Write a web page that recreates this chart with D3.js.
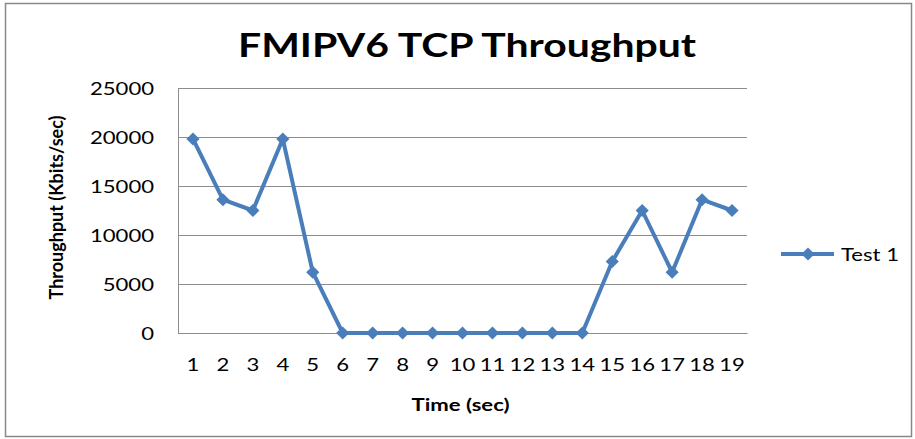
<!DOCTYPE html>
<html>
<head>
<meta charset="utf-8">
<script src="https://cdn.jsdelivr.net/npm/d3@7"></script>
<style>
  body { margin: 0; background: #fff; }
  text { font-family: Lato, "Open Sans", sans-serif; fill: #000; }
</style>
</head>
<body>
<div id="chart"></div>
<script>
// datos
const timeSec = [1, 2, 3, 4, 5, 6, 7, 8, 9, 10, 11, 12, 13, 14, 15, 16, 17, 18, 19];
const test1 = [19800, 13600, 12500, 19800, 6200, 0, 0, 0, 0, 0, 0, 0, 0, 0, 7300, 12500, 6200, 13600, 12500];
const yTicks = [0, 5000, 10000, 15000, 20000, 25000];
const seriesName = "Test 1";

const W = 915, H = 439;
const sx = 1.3; // el texto original esta estirado en horizontal
const margin = { top: 88, right: 168, bottom: 106, left: 178 };
const width = W - margin.left - margin.right;
const height = H - margin.top - margin.bottom;
const lineColor = "#4a7ebb";
const gridColor = "#8c8c8c";

const svg = d3.select("#chart").append("svg")
  .attr("width", W)
  .attr("height", H);

// marco del area de grafico
svg.append("rect")
  .attr("x", 5.5).attr("y", 3.5)
  .attr("width", 906).attr("height", 433)
  .attr("fill", "#fff")
  .attr("stroke", "#888")
  .attr("stroke-width", 1.5);

const g = svg.append("g")
  .attr("transform", `translate(${margin.left}, ${margin.top})`);

const x = d3.scaleBand().domain(timeSec).range([0, width]).padding(0);
const y = d3.scaleLinear().domain([0, 25000]).range([height, 0]);

// lineas de cuadricula
g.append("g")
  .call(d3.axisLeft(y).tickValues(yTicks).tickSize(-width).tickFormat(""))
  .call(s => s.select(".domain").remove())
  .call(s => s.selectAll(".tick line").attr("stroke", gridColor).attr("stroke-width", 1));

// eje y
const yAxis = g.append("g")
  .call(d3.axisLeft(y).tickValues(yTicks).tickSize(0).tickPadding(0).tickFormat(d3.format("d")));
yAxis.select(".domain").attr("stroke", gridColor);
yAxis.selectAll(".tick text")
  .attr("x", null).attr("dy", null)
  .attr("transform", `translate(-24, 6) scale(${sx}, 1)`)
  .attr("text-anchor", "end")
  .style("font-size", "17px")
  .style("font-family", "Lato, sans-serif")
  .attr("fill", "#111");

// eje x
const xAxis = g.append("g")
  .attr("transform", `translate(0, ${height})`)
  .call(d3.axisBottom(x).tickSize(0).tickPadding(0));
xAxis.select(".domain").attr("stroke", gridColor);
xAxis.selectAll(".tick text")
  .attr("y", null).attr("dy", null)
  .attr("transform", `translate(0, 38) scale(${sx}, 1)`)
  .style("font-size", "17px")
  .style("font-family", "Lato, sans-serif")
  .attr("fill", "#111");

// linea de la serie
const line = d3.line()
  .x((d, i) => x(timeSec[i]) + x.bandwidth() / 2)
  .y(d => y(d));

g.append("path")
  .datum(test1)
  .attr("fill", "none")
  .attr("stroke", lineColor)
  .attr("stroke-width", 4)
  .attr("stroke-linejoin", "round")
  .attr("d", line);

const diamond = d3.symbol().type(d3.symbolDiamond2).size(110);
g.selectAll(".pt")
  .data(test1)
  .enter()
  .append("path")
  .attr("class", "pt")
  .attr("transform", (d, i) => `translate(${x(timeSec[i]) + x.bandwidth() / 2}, ${y(d)})`)
  .attr("d", diamond)
  .attr("fill", lineColor);

// titulo
svg.append("text")
  .attr("transform", `translate(467, 57) scale(${sx}, 1)`)
  .attr("text-anchor", "middle")
  .style("font-size", "31.5px")
  .style("font-weight", "bold")
  .text("FMIPV6 TCP Throughput");

// titulo eje y
svg.append("text")
  .attr("transform", `translate(63, ${margin.top + height / 2 - 3}) rotate(-90)`)
  .attr("text-anchor", "middle")
  .style("font-size", "18px")
  .style("font-weight", "bold")
  .text("Throughput (Kbits/sec)");

// titulo eje x
svg.append("text")
  .attr("transform", `translate(${margin.left + width / 2 - 2}, 411) scale(${sx}, 1)`)
  .attr("text-anchor", "middle")
  .style("font-size", "17px")
  .style("font-weight", "bold")
  .text("Time (sec)");

// leyenda
const leg = svg.append("g").attr("transform", "translate(781, 254)");
leg.append("line")
  .attr("x1", 0).attr("x2", 53)
  .attr("stroke", lineColor).attr("stroke-width", 4);
leg.append("path")
  .attr("transform", "translate(27, 0)")
  .attr("d", diamond)
  .attr("fill", lineColor);
leg.append("text")
  .attr("transform", `translate(60, 7) scale(${sx}, 1)`)
  .style("font-size", "17px")
  .attr("fill", "#222")
  .text(seriesName);
</script>
</body>
</html>
